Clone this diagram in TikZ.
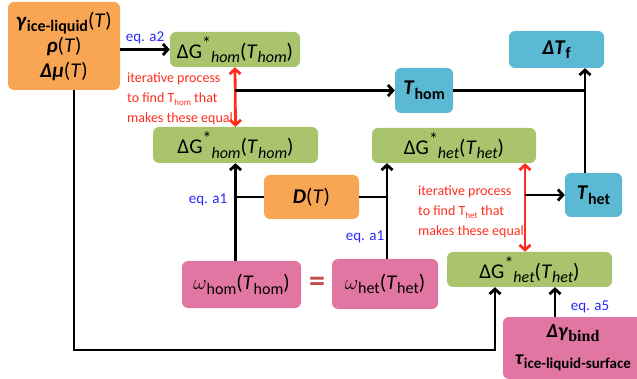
\documentclass[tikz,border=0pt]{standalone}
\usepackage{fontspec}
\setmainfont{Carlito}
\newfontfamily\serifbind{Liberation Serif}
\usepackage{tikz}
\usetikzlibrary{arrows.meta,positioning,calc}
\definecolor{paramorange}{RGB}{249,166,84}
\definecolor{gibbsgreen}{RGB}{169,196,108}
\definecolor{tempblue}{RGB}{92,185,211}
\definecolor{ratepink}{RGB}{226,118,163}
\definecolor{eqblue}{RGB}{40,40,250}
\definecolor{iterred}{RGB}{255,45,30}
\definecolor{eqsign}{RGB}{192,80,77}
\tikzset{
  box/.style={rectangle, rounded corners=6pt, inner sep=0pt, align=center,
              font=\fontsize{21}{24}\selectfont},
  boxorange/.style={box, fill=paramorange},
  boxgreen/.style={box, fill=gibbsgreen},
  boxblue/.style={box, fill=tempblue},
  boxpink/.style={box, fill=ratepink},
  arrow/.style={-{Straight Barb[length=5pt,width=11pt,line width=2.8pt]}, line width=2.8pt},
  plain/.style={line width=2.8pt},
  arrowred/.style={{Straight Barb[length=5pt,width=11pt,line width=2.8pt]}-{Straight Barb[length=5pt,width=11pt,line width=2.8pt]},
                   line width=2.8pt, iterred},
  eqlabel/.style={font=\fontsize{15}{17}\selectfont, text=eqblue},
  iterlabel/.style={font=\fontsize{14}{20}\selectfont, text=iterred, align=left, anchor=north west, inner sep=0pt},
}
\newcommand{\lowtext}[1]{\raisebox{-0.45ex}{\fontsize{16}{16}\selectfont #1}}
\newcommand{\dGstar}[1]{ΔG\raisebox{0.9ex}{\fontsize{18}{18}\selectfont *}\lowtext{\textit{#1}}(\textit{T}\lowtext{\textit{#1}})}

\begin{document}
\begin{tikzpicture}[x=1pt,y=-1pt]
\useasboundingbox (0,0) rectangle (637,379);

% boxes
\node[boxorange, minimum width=112pt, minimum height=88pt, font=\fontsize{21}{25}\selectfont] (params) at (64,46)
  {\textbf{\textit{γ}}\lowtext{\bfseries ice-liquid}(\textit{T})\\
   \textbf{\textit{ρ}}(\textit{T})\\
   \textbf{\textit{Δμ}}(\textit{T})};
\node[boxgreen, minimum width=130pt, minimum height=35pt] (ghomA) at (235,49.5) {\dGstar{hom}};
\node[boxgreen, minimum width=165pt, minimum height=36pt] (ghomB) at (235.5,145) {\dGstar{hom}};
\node[boxgreen, minimum width=164pt, minimum height=35pt] (ghetA) at (454,145.5) {\dGstar{het}};
\node[boxgreen, minimum width=165pt, minimum height=35pt] (ghetB) at (529.5,269.5) {\dGstar{het}};
\node[boxorange, minimum width=95pt, minimum height=44pt] (diff) at (311.5,197) {\textbf{\textit{D}}(\textit{T})};
\node[boxblue, minimum width=58pt, minimum height=45pt] (thom) at (424,90.5) {\textbf{\textit{T}}\lowtext{\bfseries hom}};
\node[boxblue, minimum width=95pt, minimum height=37pt] (dtf) at (556.5,49.5) {\textbf{\textit{ΔT}}\lowtext{\bfseries f}};
\node[boxblue, minimum width=57pt, minimum height=44pt] (thet) at (593.5,195) {\textbf{\textit{T}}\lowtext{\bfseries het}};
\node[boxpink, minimum width=119pt, minimum height=47pt] (whom) at (241.5,284.5) {$\omega$\lowtext{hom}(\textit{T}\lowtext{hom})};
\node[boxpink, minimum width=106pt, minimum height=50pt] (whet) at (385,284) {$\omega$\lowtext{het}(\textit{T}\lowtext{het})};
\node[boxpink, minimum width=140pt, minimum height=62pt, font=\fontsize{20}{27}\selectfont] (surf) at (573,348)
  {\textbf{\textit{Δγ}}\lowtext{\serifbind\bfseries bind}\\
   \textbf{\textit{τ}}\lowtext{\bfseries\fontsize{15}{15}\selectfont ice-liquid-surface}};
\node[font=\fontsize{32}{32}\selectfont\bfseries, text=eqsign] (equal) at (317,284) {=};

% helper points
\coordinate (colf) at (585,90.5);
\coordinate (itr) at (525,195);
\coordinate (lp) at (74,350);
\coordinate (rp) at (495,350);

% connectors
\draw[arrow] (params.east |- ghomA) -- (ghomA);
\draw[arrowred] (ghomA.south) -- (ghomB.north);
\draw[arrow] (ghomA.south |- thom) -- (thom);
\draw[plain] (thom) -- (colf);
\draw[arrow] (thet.north -| colf) -- (colf |- dtf.south);
\draw[arrow] (ghomB |- whom.north) -- (ghomB.south);
\draw[plain] (diff.west) -- (diff.west -| ghomB);
\draw[arrow] ([xshift=2pt]whet.north) -- ([xshift=2pt]whet.north |- ghetA.south);
\draw[plain] (diff.east) -- ([xshift=2pt]diff.east -| whet);
\draw[arrowred] (itr |- ghetA.south) -- (itr |- ghetB.north);
\draw[arrow] (itr) -- (thet);
\draw[arrow] ([xshift=-18pt]surf.north) -- ([xshift=-18pt]surf.north |- ghetB.south);
\draw[arrow] (params.south -| lp) -- (lp) -- (rp) -- (rp |- ghetB.south);

% labels
\node[eqlabel] (eqa2) at (145,38) {eq. a2};
\node[eqlabel] (eqa1l) at (208,200) {eq. a1};
\node[eqlabel] (eqa1r) at (365,237) {eq. a1};
\node[eqlabel] (eqa5) at (590,307) {eq. a5};
\node[iterlabel] (iterhom) at (127,73) {iterative process\\to find T\lowtext{\fontsize{9}{9}\selectfont hom} that\\makes these equal};
\node[iterlabel] (iterhet) at (418,186) {iterative process\\to find T\lowtext{\fontsize{9}{9}\selectfont het} that\\makes these equal};
\end{tikzpicture}
\end{document}
